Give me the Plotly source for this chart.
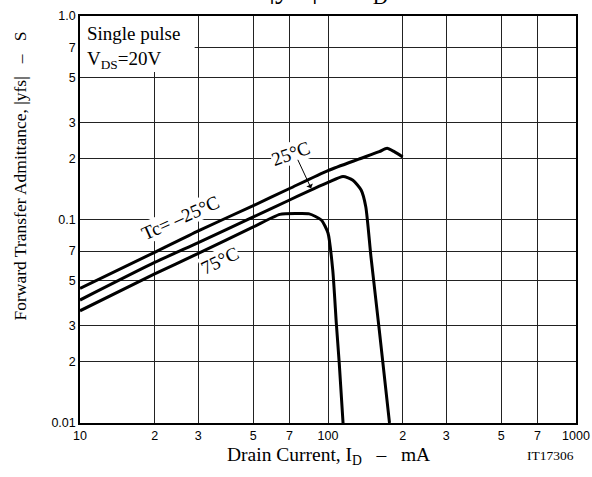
import math
import plotly.graph_objects as go

# Data (Drain current mA, |yfs| S)
x_m25 = [10, 20, 30, 50, 70, 100, 133, 161, 173, 185, 200]
y_m25 = [0.0459, 0.069, 0.088, 0.117, 0.142, 0.174, 0.198, 0.2154, 0.224, 0.2154, 0.203]

x_25 = [10, 20, 30, 50, 70, 100, 115, 126, 136, 142, 149, 161, 177]
y_25 = [0.0402, 0.0615, 0.077, 0.103, 0.1247, 0.152, 0.1627, 0.156, 0.1396, 0.1156, 0.0657, 0.0286, 0.01]

x_75 = [10, 20, 30, 50, 64, 75, 84, 94, 100, 104.5, 108, 111, 115]
y_75 = [0.0356, 0.054, 0.0682, 0.092, 0.106, 0.107, 0.1066, 0.0994, 0.0858, 0.0565, 0.031, 0.0197, 0.01]

x_ticks = [10, 20, 30, 50, 70, 100, 200, 300, 500, 700, 1000]
x_tick_text = ["10", "2", "3", "5", "7", "100", "2", "3", "5", "7", "1000"]
y_ticks = [0.01, 0.02, 0.03, 0.05, 0.07, 0.1, 0.2, 0.3, 0.5, 0.7, 1.0]
y_tick_text = ["0.01", "2", "3", "5", "7", "0.1", "2", "3", "5", "7", "1.0"]

SERIF = "Liberation Serif"
SANS = "Liberation Sans"
L = math.log10
NB = "\u00a0"
DASH = NB * 2 + " \u2013 " + NB * 2

fig = go.Figure()
for xs, ys in [(x_m25, y_m25), (x_25, y_25), (x_75, y_75)]:
    fig.add_trace(go.Scatter(x=xs, y=ys, mode="lines",
                             line=dict(color="black", width=3, shape="spline", smoothing=0.6),
                             showlegend=False, hoverinfo="skip"))

axis_common = dict(type="log", showgrid=True, gridcolor="#222", gridwidth=1,
                   showline=True, linecolor="black", linewidth=1.5, mirror=True,
                   ticks="", zeroline=False, automargin=False,
                   tickfont=dict(family=SANS, size=12.5, color="black"))

fig.update_xaxes(range=[1, 3], tickvals=x_ticks, ticktext=x_tick_text, **axis_common)
fig.update_yaxes(range=[-2, 0], tickvals=y_ticks, ticktext=y_tick_text, **axis_common)

# white box for the condition text
fig.add_shape(type="rect", xref="x", yref="y", x0=10, x1=29, y0=0.53, y1=1.0,
              fillcolor="white", line=dict(width=0), layer="above")

annotations = [
    dict(xref="paper", yref="paper", x=0.01, y=0.988, xanchor="left", yanchor="top",
         text="Single pulse<br>V<sub>DS</sub>=20V", align="left", showarrow=False,
         font=dict(family=SERIF, size=19, color="black")),
    dict(xref="x", yref="y", x=L(25.5), y=L(0.102), text="Tc= \u201325\u00b0C", textangle=-24,
         showarrow=False, bgcolor="white", borderpad=0,
         font=dict(family=SERIF, size=19, color="black")),
    dict(xref="x", yref="y", x=L(36.6), y=L(0.0632), text="75\u00b0C", textangle=-26,
         showarrow=False, bgcolor="white", borderpad=0,
         font=dict(family=SERIF, size=19, color="black")),
    dict(xref="x", yref="y", x=L(70.6), y=L(0.212), text="25\u00b0C", textangle=-20,
         showarrow=False, bgcolor="white", borderpad=0,
         font=dict(family=SERIF, size=19, color="black")),
    dict(xref="x", yref="y", x=L(85.5), y=L(0.1423), text="", showarrow=True,
         ax=-14, ay=-30, arrowhead=1, arrowsize=1.2, arrowwidth=1, arrowcolor="black",
         standoff=0),
    dict(xref="paper", yref="paper", x=0.5, y=1.0, yshift=5, yanchor="bottom",
         text="|yfs|" + NB + " \u2013 " + NB + "I<sub>D</sub>", showarrow=False,
         font=dict(family=SERIF, size=30, color="black")),
    dict(xref="paper", yref="paper", x=0.5, y=-0.08, yanchor="middle",
         text="Drain Current, I<sub>D</sub>" + DASH + "mA", showarrow=False,
         font=dict(family=SERIF, size=19.5, color="black")),
    dict(xref="paper", yref="paper", x=1.0, y=-0.08, xanchor="right", yanchor="middle",
         text="IT17306", showarrow=False,
         font=dict(family=SERIF, size=13.5, color="black")),
    dict(xref="paper", yref="paper", x=-0.121, y=0.608, xanchor="center", yanchor="middle",
         text="Forward Transfer Admittance, |yfs|" + DASH + "S",
         textangle=-90, showarrow=False,
         font=dict(family=SERIF, size=17.5, color="black")),
]
fig.update_layout(annotations=annotations)

fig.update_layout(width=592, height=477,
                  margin=dict(l=80, r=16, t=16, b=54),
                  paper_bgcolor="white", plot_bgcolor="white")

fig.write_html("out.html", config={"displayModeBar": False},
               post_script="document.body.style.margin='0';")
